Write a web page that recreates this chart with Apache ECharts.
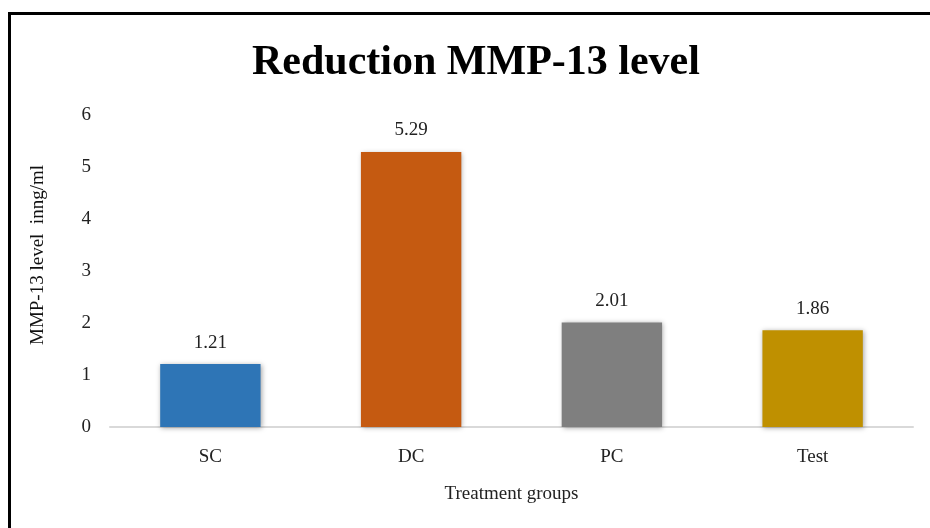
<!DOCTYPE html>
<html>
<head>
<meta charset="utf-8">
<script src="https://cdn.jsdelivr.net/npm/echarts@6/dist/echarts.min.js"></script>
<style>
  html, body { margin: 0; padding: 0; background: #fff; }
  #chart { width: 930px; height: 528px; }
</style>
</head>
<body>
<div id="chart"></div>
<script>
// Treatment groups and their MMP-13 levels
const categories = ['SC', 'DC', 'PC', 'Test'];
const mmp13Values = [1.21, 5.29, 2.01, 1.86];
const barColors = ['#2E75B6', '#C55A11', '#7F7F7F', '#BF9000'];
const yTicks = { min: 0, max: 6, interval: 1 };

const serif = '"Liberation Serif", "DejaVu Serif", serif';

const chart = echarts.init(document.getElementById('chart'));

chart.setOption({
  backgroundColor: '#ffffff',
  animation: false,
  title: {
    text: 'Reduction MMP-13 level',
    left: 247,
    top: 37,
    textStyle: { fontFamily: serif, fontSize: 42, fontWeight: 'bold', color: '#000' }
  },
  grid: { left: 110, right: 17, top: 115, bottom: 101 },
  xAxis: {
    type: 'category',
    data: categories,
    name: 'Treatment groups',
    nameLocation: 'middle',
    nameGap: 58,
    nameTextStyle: { fontFamily: serif, fontSize: 19, color: '#222' },
    axisLine: { lineStyle: { color: '#d9d9d9', width: 2 } },
    axisTick: { show: false },
    axisLabel: { fontFamily: serif, fontSize: 19, color: '#222', margin: 21 }
  },
  yAxis: {
    type: 'value',
    min: yTicks.min,
    max: yTicks.max,
    interval: yTicks.interval,
    name: 'MMP-13 level  inng/ml',
    nameLocation: 'middle',
    nameGap: 62,
    nameTextStyle: { fontFamily: serif, fontSize: 19, color: '#111', padding: [0, 0, 0, 32] },
    axisLine: { show: false },
    axisTick: { show: false },
    splitLine: { show: false },
    axisLabel: { fontFamily: serif, fontSize: 19, color: '#222', margin: 19 }
  },
  series: [{
    type: 'bar',
    data: mmp13Values.map((v, i) => ({ value: v, itemStyle: { color: barColors[i] } })),
    barWidth: '50%',
    itemStyle: {
      shadowColor: 'rgba(0,0,0,0.35)',
      shadowBlur: 5,
      shadowOffsetX: 1,
      shadowOffsetY: 1
    },
    label: {
      show: true,
      position: 'top',
      distance: 12,
      fontFamily: serif,
      fontSize: 19,
      color: '#222',
      formatter: p => p.value.toFixed(2)
    }
  }],
  graphic: [{
    type: 'polyline',
    shape: { points: [[9.5, 528], [9.5, 13.5], [930, 13.5]] },
    style: { stroke: '#000', lineWidth: 3, fill: null },
    silent: true
  }]
});
</script>
</body>
</html>
